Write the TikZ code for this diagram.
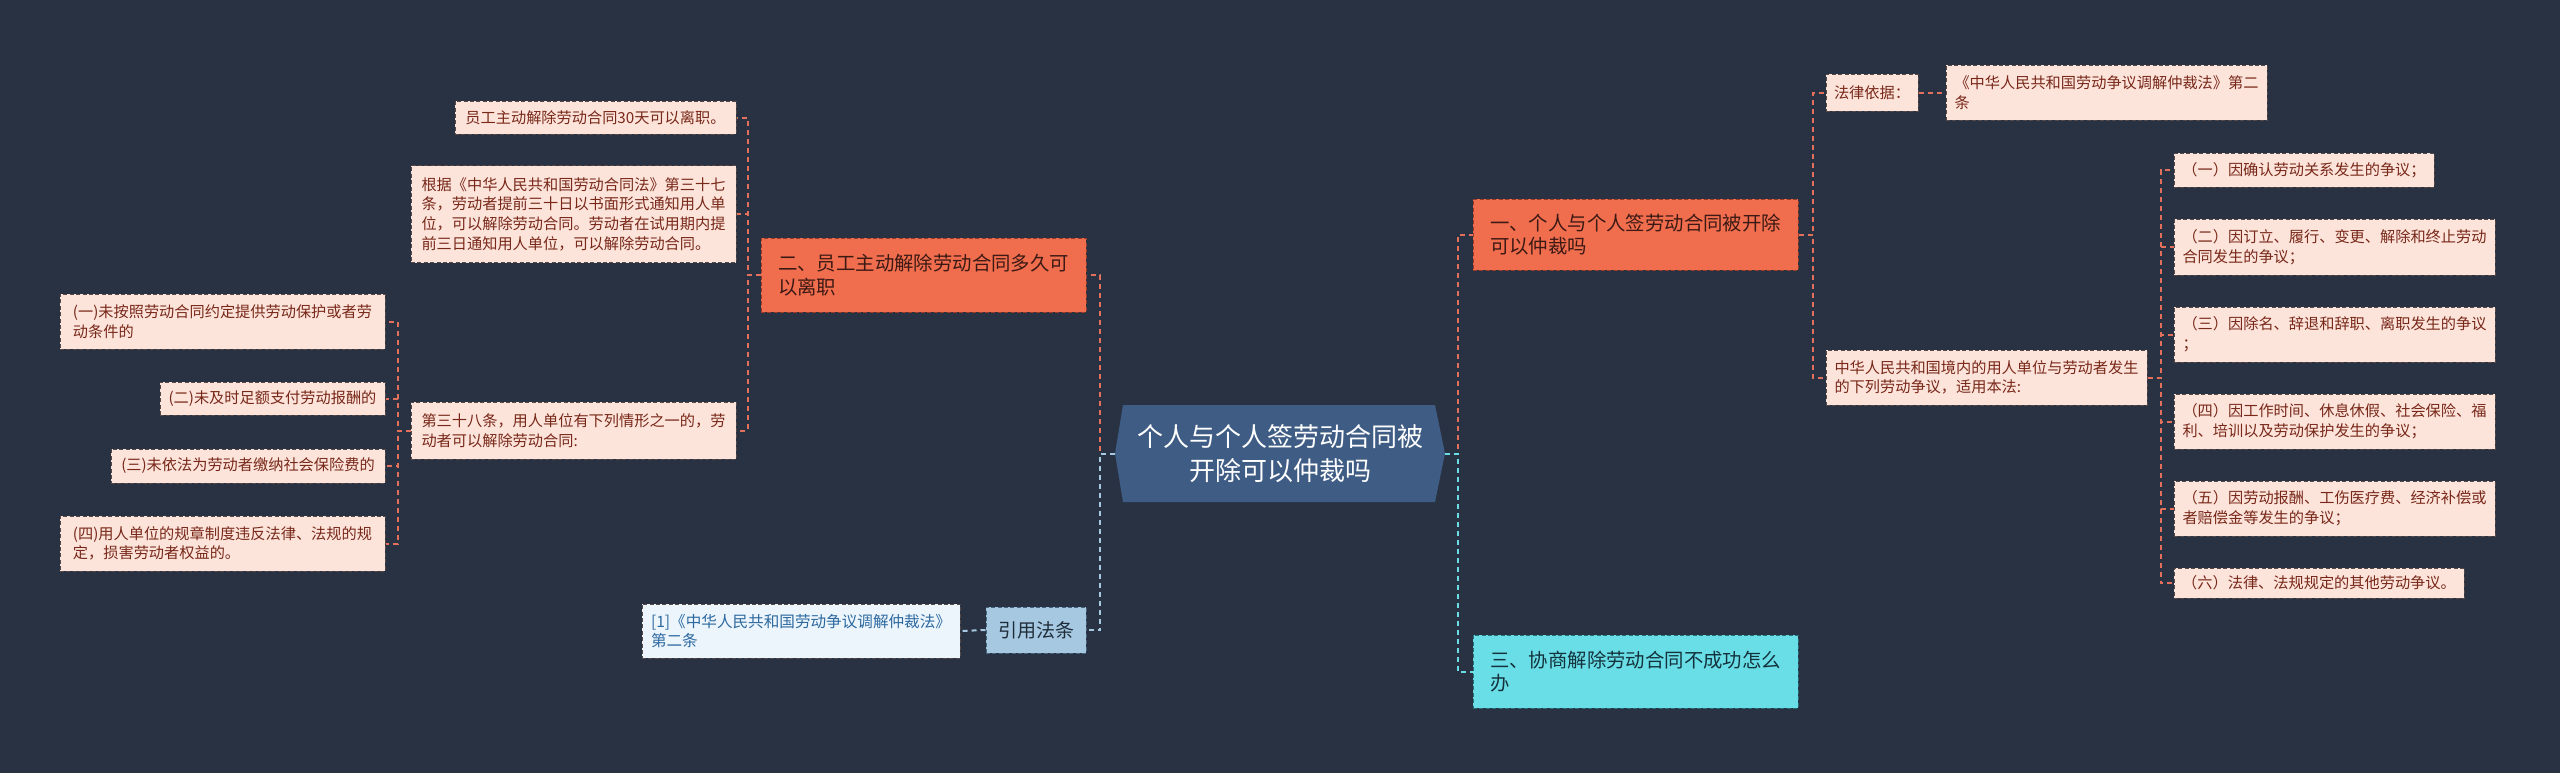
\documentclass[tikz,border=0pt]{standalone}
\usepackage{fontspec}
\setmainfont{Noto Sans CJK SC}
\usepackage{tikz}
\usetikzlibrary{positioning}
\definecolor{mmbg}{RGB}{41,50,66}
\definecolor{leaffill}{RGB}{253,228,219}
\definecolor{leafedge}{RGB}{85,72,72}
\definecolor{leaftext}{RGB}{120,40,25}
\definecolor{orangefill}{RGB}{240,110,78}
\definecolor{orangeedge}{RGB}{150,60,40}
\definecolor{orangetext}{RGB}{60,25,20}
\definecolor{cyanfill}{RGB}{106,222,230}
\definecolor{cyanedge}{RGB}{40,110,120}
\definecolor{cyantext}{RGB}{20,50,60}
\definecolor{rootfill}{RGB}{62,92,132}
\definecolor{citefill}{RGB}{166,200,224}
\definecolor{citeedge}{RGB}{70,100,125}
\definecolor{citetext}{RGB}{31,45,58}
\definecolor{citeleaffill}{RGB}{235,245,251}
\definecolor{citeleaftext}{RGB}{45,105,160}
\definecolor{linkred}{RGB}{226,112,90}
\definecolor{linkblue}{RGB}{166,200,224}
\definecolor{linkcyan}{RGB}{106,222,230}
\tikzset{
  leaf/.style={rectangle, draw=leafedge, fill=leaffill, text=leaftext,
    dash pattern=on 2pt off 1.2pt, line width=0.5pt, align=left,
    inner sep=0pt, font=\fontsize{7.6}{9.8}\selectfont},
  orangenode/.style={rectangle, draw=orangeedge, fill=orangefill, text=orangetext,
    dash pattern=on 2pt off 1.2pt, line width=0.5pt, align=left,
    inner sep=0pt, font=\fontsize{9.7}{11.7}\selectfont},
  cyannode/.style={rectangle, draw=cyanedge, fill=cyanfill, text=cyantext,
    dash pattern=on 2pt off 1.2pt, line width=0.5pt, align=left,
    inner sep=0pt, font=\fontsize{9.7}{11.7}\selectfont},
  citehead/.style={rectangle, draw=citeedge, fill=citefill, text=citetext,
    dash pattern=on 2pt off 1.2pt, line width=0.5pt,
    inner sep=0pt, font=\fontsize{9.5}{11.5}\selectfont},
  citeleaf/.style={rectangle, draw=leafedge, fill=citeleaffill, text=citeleaftext,
    dash pattern=on 2pt off 1.2pt, line width=0.5pt, align=left,
    inner sep=0pt, font=\fontsize{7.8}{9.8}\selectfont},
  roottext/.style={align=center, text=white, inner sep=0pt,
    font=\fontsize{13}{16.7}\selectfont},
  redline/.style={draw=linkred, line width=1pt, dash pattern=on 2.5pt off 2pt},
  blueline/.style={draw=linkblue, line width=1pt, dash pattern=on 2.5pt off 2pt},
  cyanline/.style={draw=linkcyan, line width=1pt, dash pattern=on 2.5pt off 2pt}
}

\begin{document}
\begin{tikzpicture}[x=0.5pt, y=-0.5pt]
  \useasboundingbox (0,0) rectangle (2560,773);
  \fill[mmbg] (0,0) rectangle (2560,773);

  % Root
  \coordinate (rootW) at (1115,453.5);
  \coordinate (rootE) at (1445,453.5);
  \fill[rootfill] (rootW) -- (1123,405) -- (1435,405) -- (rootE) -- (1435,502) -- (1123,502) -- cycle;
  \node[roottext] (root) at (1280,453.5) {个人与个人签劳动合同被\\开除可以仲裁吗};

  % Left branch
  \node[orangenode, minimum width=162.5pt, minimum height=37pt] (L1) at (923.5,275)
    {二、员工主动解除劳动合同多久可\\以离职};
  \node[leaf, minimum width=140.5pt, minimum height=16.5pt] (A) at (595.5,117.5)
    {员工主动解除劳动合同30天可以离职。};
  \node[leaf, minimum width=162.5pt, minimum height=48.5pt] (B) at (573.5,214)
    {根据《中华人民共和国劳动合同法》第三十七\\条，劳动者提前三十日以书面形式通知用人单\\位，可以解除劳动合同。劳动者在试用期内提\\前三日通知用人单位，可以解除劳动合同。};
  \node[leaf, minimum width=162.5pt, minimum height=28.5pt] (C) at (573.5,430.5)
    {第三十八条，用人单位有下列情形之一的，劳\\动者可以解除劳动合同:};
  \node[leaf, minimum width=162.5pt, minimum height=27.5pt] (D1) at (222.5,321.5)
    {(一)未按照劳动合同约定提供劳动保护或者劳\\动条件的};
  \node[leaf, minimum width=112.5pt, minimum height=16.5pt] (D2) at (272.5,398.5)
    {(二)未及时足额支付劳动报酬的};
  \node[leaf, minimum width=137pt, minimum height=17pt] (D3) at (248,466)
    {(三)未依法为劳动者缴纳社会保险费的};
  \node[leaf, minimum width=162.5pt, minimum height=27.5pt] (D4) at (222.5,543.5)
    {(四)用人单位的规章制度违反法律、法规的规\\定，损害劳动者权益的。};

  % Citation branch
  \node[citehead, minimum width=50pt, minimum height=23pt] (cite0) at (1036,630) {引用法条};
  \node[citeleaf, minimum width=159pt, minimum height=27pt] (cite1) at (801,631)
    {[1]《中华人民共和国劳动争议调解仲裁法》\\第二条};

  % Right branches
  \node[orangenode, minimum width=162.5pt, minimum height=35.5pt] (R1) at (1635.5,234.5)
    {一、个人与个人签劳动合同被开除\\可以仲裁吗};
  \node[cyannode, minimum width=162.5pt, minimum height=36.5pt] (R3) at (1635.5,671.5)
    {三、协商解除劳动合同不成功怎么\\办};
  \node[leaf, minimum width=46pt, minimum height=18.5pt] (F1) at (1872,92.5) {法律依据：};
  \node[leaf, minimum width=160.5pt, minimum height=27.5pt] (F2) at (2106.5,92.5)
    {《中华人民共和国劳动争议调解仲裁法》第二\\条};
  \node[leaf, minimum width=160.5pt, minimum height=27.5pt] (F3) at (1986.5,377.5)
    {中华人民共和国境内的用人单位与劳动者发生\\的下列劳动争议，适用本法:};
  \node[leaf, minimum width=130pt, minimum height=17pt] (E1) at (2304,170)
    {（一）因确认劳动关系发生的争议；};
  \node[leaf, minimum width=160.5pt, minimum height=28pt] (E2) at (2334.5,247)
    {（二）因订立、履行、变更、解除和终止劳动\\合同发生的争议；};
  \node[leaf, minimum width=160.5pt, minimum height=27.5pt] (E3) at (2334.5,334.5)
    {（三）因除名、辞退和辞职、离职发生的争议\\；};
  \node[leaf, minimum width=160.5pt, minimum height=27.5pt] (E4) at (2334.5,421.5)
    {（四）因工作时间、休息休假、社会保险、福\\利、培训以及劳动保护发生的争议；};
  \node[leaf, minimum width=160.5pt, minimum height=27.5pt] (E5) at (2334.5,508.5)
    {（五）因劳动报酬、工伤医疗费、经济补偿或\\者赔偿金等发生的争议；};
  \node[leaf, minimum width=145pt, minimum height=15pt] (E6) at (2319,583)
    {（六）法律、法规规定的其他劳动争议。};

  % Connectors
  \draw[redline] (rootW) -- ++(-15,0) |- (L1.east);
  \draw[blueline] (rootW) -- ++(-15,0) |- (cite0.east);
  \draw[redline] (rootE) -- ++(13,0) |- (R1.west);
  \draw[cyanline] (rootE) -- ++(13,0) |- (R3.west);
  \foreach \n in {A,B,C}
    \draw[redline] (L1.west) -- ++(-13,0) |- (\n.east);
  \foreach \n in {D1,D2,D3,D4}
    \draw[redline] (C.west) -- ++(-13,0) |- (\n.east);
  \draw[blueline] (cite0.west) -- (cite1.east);
  \foreach \n in {F1,F3}
    \draw[redline] (R1.east) -- ++(14,0) |- (\n.west);
  \draw[redline] (F1.east) -- (F2.west);
  \foreach \i in {1,...,6}
    \draw[redline] (F3.east) -- ++(13,0) |- (E\i.west);
\end{tikzpicture}
\end{document}
